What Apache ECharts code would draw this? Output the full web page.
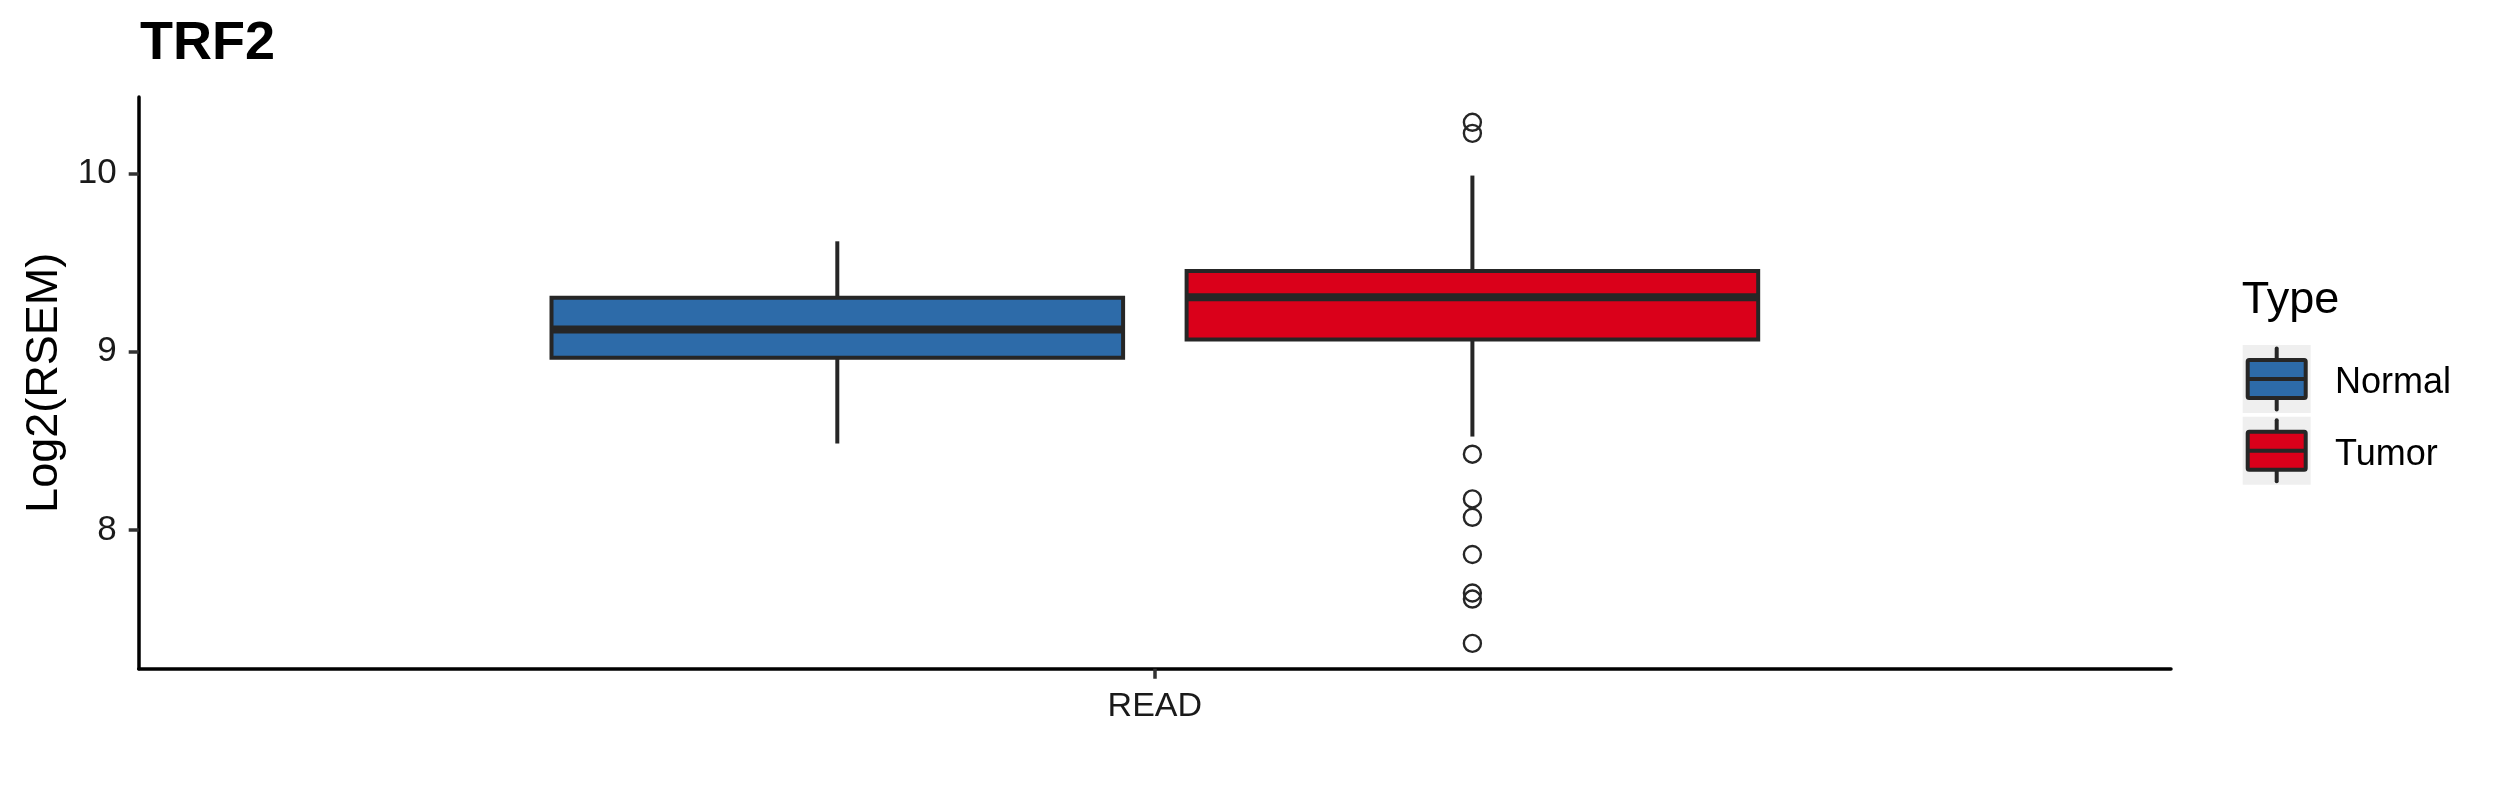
<!DOCTYPE html>
<html>
<head>
<meta charset="utf-8">
<script src="https://cdn.jsdelivr.net/npm/echarts@6/dist/echarts.min.js"></script>
<style>
html,body{margin:0;padding:0;background:#fff;}
#chart{width:2499px;height:800px;}
</style>
</head>
<body>
<div id="chart"></div>
<script>
// ---- data ----
const categories = ['READ'];
const groups = ['Normal', 'Tumor'];
// [lower whisker, Q1, median, Q3, upper whisker]
const normalBox = [8.485, 8.966, 9.125, 9.303, 9.62];
const tumorBox = [8.524, 9.069, 9.306, 9.453, 9.989];
const normalOutliers = [];
const tumorOutliers = [10.288, 10.226, 8.425, 8.174, 8.071, 7.862, 7.646, 7.612, 7.363];
const yTicks = [8, 9, 10];

// ---- style ----
const FONT = "'Liberation Sans', Arial, Helvetica, sans-serif";
const colors = { Normal: '#2D6BA9', Tumor: '#DA001A' };
const lineCol = '#262626';
const dodge = { Normal: -0.15625, Tumor: 0.15625 }; // fraction of category band
const boxFrac = 0.28125;

function boxRender(group) {
  return function (params, api) {
    const band = api.size([1, 0])[0];
    const c = api.value(0);
    const cx = api.coord([c, api.value(3)])[0] + dodge[group] * band;
    const half = boxFrac * band / 2;
    const yLow = api.coord([c, api.value(1)])[1];
    const yQ1 = api.coord([c, api.value(2)])[1];
    const yMed = api.coord([c, api.value(3)])[1];
    const yQ3 = api.coord([c, api.value(4)])[1];
    const yHigh = api.coord([c, api.value(5)])[1];
    const ls = { stroke: lineCol, lineWidth: 4 };
    return {
      type: 'group',
      children: [
        { type: 'line', shape: { x1: cx, y1: yHigh, x2: cx, y2: yQ3 }, style: ls },
        { type: 'line', shape: { x1: cx, y1: yQ1, x2: cx, y2: yLow }, style: ls },
        { type: 'rect', shape: { x: cx - half, y: yQ3, width: 2 * half, height: yQ1 - yQ3 },
          style: { fill: colors[group], stroke: lineCol, lineWidth: 4 } },
        { type: 'line', shape: { x1: cx - half, y1: yMed, x2: cx + half, y2: yMed },
          style: { stroke: lineCol, lineWidth: 8 } }
      ]
    };
  };
}
function outlierRender(group) {
  return function (params, api) {
    const band = api.size([1, 0])[0];
    const p = api.coord([api.value(0), api.value(1)]);
    return {
      type: 'circle',
      shape: { cx: p[0] + dodge[group] * band, cy: p[1], r: 8.5 },
      style: { fill: 'none', stroke: lineCol, lineWidth: 2.4 }
    };
  };
}

const boxData = { Normal: normalBox, Tumor: tumorBox };
const outData = { Normal: normalOutliers, Tumor: tumorOutliers };
const series = [];
groups.forEach(function (g) {
  series.push({
    name: g, type: 'custom', renderItem: boxRender(g),
    data: [[0].concat(boxData[g])],
    encode: { x: 0, y: [1, 2, 3, 4, 5] },
    itemStyle: { color: colors[g] }, z: 2
  });
  series.push({
    name: g + ' outliers', type: 'custom', renderItem: outlierRender(g),
    data: outData[g].map(function (v) { return [0, v]; }),
    encode: { x: 0, y: 1 }, z: 3
  });
});

// legend drawn with graphic elements (ggplot style keys)
const legendX = 2242.7, legendKeyTop = 345, keyPitch = 71.7, keySize = 68;
const graphic = [
  { type: 'text', x: legendX - 1, y: 301, style: { text: 'Type', font: '45px ' + FONT, fill: '#000', verticalAlign: 'middle' }, silent: true }
];
groups.forEach(function (g, i) {
  const top = legendKeyTop + i * keyPitch;
  const cx = legendX + keySize / 2;
  const cy = top + keySize / 2;
  graphic.push({ type: 'rect', shape: { x: legendX, y: top, width: keySize, height: keySize }, style: { fill: '#EFEFEF' }, silent: true });
  graphic.push({ type: 'line', shape: { x1: cx, y1: top + 3.5, x2: cx, y2: top + keySize - 3.5 }, style: { stroke: lineCol, lineWidth: 4, lineCap: 'round' }, silent: true });
  graphic.push({ type: 'rect', shape: { x: legendX + 5, y: top + 15, width: keySize - 10, height: keySize - 30, r: 1.5 }, style: { fill: colors[g], stroke: lineCol, lineWidth: 4 }, silent: true });
  graphic.push({ type: 'line', shape: { x1: legendX + 5, y1: cy, x2: legendX + keySize - 5, y2: cy }, style: { stroke: lineCol, lineWidth: 4 }, silent: true });
  graphic.push({ type: 'text', x: 2335, y: cy + 4, style: { text: g, font: '36px ' + FONT, fill: '#000', verticalAlign: 'middle' }, silent: true });
});

const option = {
  backgroundColor: '#fff',
  animation: false,
  title: {
    text: 'TRF2', left: 135, top: 12,
    textStyle: { fontFamily: FONT, fontSize: 54, fontWeight: 'bold', color: '#000' }
  },
  grid: { left: 138.7, right: 328, top: 97, bottom: 131.3, containLabel: false },
  xAxis: {
    type: 'category', data: categories,
    axisLine: { show: true, lineStyle: { color: '#000', width: 3.5 } },
    axisTick: { show: true, alignWithLabel: true, length: 10, lineStyle: { color: '#333', width: 3.5 } },
    axisLabel: { fontFamily: FONT, fontSize: 34, color: '#1A1A1A', margin: 21 },
    splitLine: { show: false }
  },
  yAxis: {
    type: 'value', min: 7.221, max: 10.43,
    name: 'Log2(RSEM)', nameLocation: 'middle', nameGap: 72,
    nameTextStyle: { fontFamily: FONT, fontSize: 45, color: '#000' },
    axisLine: { show: true, lineStyle: { color: '#000', width: 3.5 } },
    axisTick: { show: true, length: 10, customValues: yTicks, lineStyle: { color: '#333', width: 3.5 } },
    axisLabel: { fontFamily: FONT, fontSize: 35, color: '#1A1A1A', margin: 22, customValues: yTicks },
    splitLine: { show: false }
  },
  graphic: graphic,
  series: series
};

const chart = echarts.init(document.getElementById('chart'), null, { renderer: 'canvas' });
chart.setOption(option);
</script>
</body>
</html>
